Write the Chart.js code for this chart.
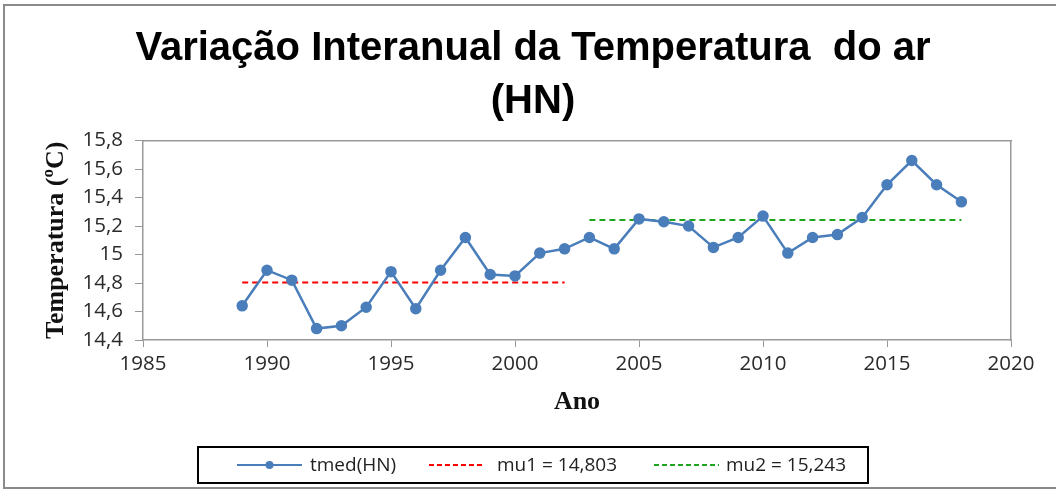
<!DOCTYPE html>
<html>
<head>
<meta charset="utf-8">
<script src="https://cdn.jsdelivr.net/npm/chart.js@4/dist/chart.umd.min.js"></script>
<style>
  html, body { margin: 0; padding: 0; background: #fff; }
  #wrap { width: 1056px; height: 492px; }
</style>
</head>
<body>
<div id="wrap"><canvas id="tempChart"></canvas></div>
<script>
const years = [1989, 1990, 1991, 1992, 1993, 1994, 1995, 1996, 1997, 1998,
               1999, 2000, 2001, 2002, 2003, 2004, 2005, 2006, 2007, 2008,
               2009, 2010, 2011, 2012, 2013, 2014, 2015, 2016, 2017, 2018];
const tmed = [14.64, 14.89, 14.82, 14.48, 14.50, 14.63, 14.88, 14.62, 14.89, 15.12,
              14.86, 14.85, 15.01, 15.04, 15.12, 15.04, 15.25, 15.23, 15.20, 15.05,
              15.12, 15.27, 15.01, 15.12, 15.14, 15.26, 15.49, 15.66, 15.49, 15.37];
const mu1Years = [1989, 2002];
const mu1 = 14.803;
const mu2Years = [2003, 2018];
const mu2 = 15.243;
const xTicks = [1985, 1990, 1995, 2000, 2005, 2010, 2015, 2020];
const yTicks = [14.4, 14.6, 14.8, 15.0, 15.2, 15.4, 15.6, 15.8];

const fmt = v => String(+v.toFixed(1)).replace('.', ',');

// outer frame
const frame = {
    id: 'frame',
    beforeDraw(chart) {
        const ctx = chart.ctx;
        ctx.save();
        ctx.fillStyle = '#fff';
        ctx.fillRect(0, 0, chart.width, chart.height);
        ctx.strokeStyle = '#8a8a8a';
        ctx.lineWidth = 2;
        ctx.strokeRect(4, 5, chart.width + 10, 483);
        ctx.restore();
    }
};

// legend box drawn like the Excel one
const excelLegend = {
    id: 'excelLegend',
    afterDraw(chart) {
        const ctx = chart.ctx;
        const ds = chart.data.datasets;
        const y = 465;
        ctx.save();
        ctx.strokeStyle = '#000';
        ctx.lineWidth = 2;
        ctx.strokeRect(198, 447, 670, 36);
        ctx.font = '19px "Open Sans"';
        ctx.textBaseline = 'middle';
        const items = [
            { x0: 237, x1: 302, tx: 310 },
            { x0: 429, x1: 483, tx: 497 },
            { x0: 654, x1: 719, tx: 726 }
        ];
        items.forEach((it, i) => {
            const d = ds[i];
            ctx.strokeStyle = d.borderColor;
            ctx.lineWidth = 2;
            ctx.setLineDash(d.borderDash ? [5, 3] : []);
            ctx.beginPath();
            ctx.moveTo(it.x0, y);
            ctx.lineTo(it.x1, y);
            ctx.stroke();
            ctx.setLineDash([]);
            if (d.pointRadius) {
                ctx.fillStyle = d.borderColor;
                ctx.beginPath();
                ctx.arc((it.x0 + it.x1) / 2, y, 4, 0, Math.PI * 2);
                ctx.fill();
            }
            ctx.fillStyle = '#222';
            ctx.fillText(d.label, it.tx, y + 1);
        });
        ctx.restore();
    }
};

Chart.defaults.font.family = '"Open Sans", sans-serif';
Chart.defaults.color = '#2a2a2a';

new Chart(document.getElementById('tempChart'), {
    type: 'line',
    data: {
        datasets: [{
            label: 'tmed(HN)',
            data: years.map((yr, i) => ({ x: yr, y: tmed[i] })),
            borderColor: '#4a7ebb',
            backgroundColor: '#4a7ebb',
            borderWidth: 2.5,
            pointRadius: 4.5,
            pointHoverRadius: 4.5,
            tension: 0
        }, {
            label: 'mu1 = 14,803',
            data: mu1Years.map(yr => ({ x: yr, y: mu1 })),
            borderColor: '#ff0000',
            borderWidth: 2,
            borderDash: [6, 4],
            pointRadius: 0
        }, {
            label: 'mu2 = 15,243',
            data: mu2Years.map(yr => ({ x: yr, y: mu2 })),
            borderColor: '#1ea51e',
            borderWidth: 2,
            borderDash: [6, 4],
            pointRadius: 0
        }]
    },
    options: {
        responsive: true,
        maintainAspectRatio: false,
        animation: false,
        layout: { padding: { left: 10, right: 0, top: 0, bottom: 72 } },
        plugins: {
            legend: { display: false },
            tooltip: { enabled: false },
            title: {
                display: true,
                text: ['Variação Interanual da Temperatura  do ar', '(HN)'],
                color: '#000',
                font: { family: '"Liberation Sans", Arial, sans-serif', size: 40, weight: 'bold', lineHeight: 1.32 },
                padding: { top: 23, bottom: 12 }
            }
        },
        scales: {
            x: {
                type: 'linear',
                min: 1985,
                max: 2020,
                afterBuildTicks: s => { s.ticks = xTicks.map(v => ({ value: v })); },
                afterFit: s => { s.height = 80; },
                ticks: { font: { size: 20.5 }, padding: 5, maxRotation: 0, callback: v => String(v) },
                grid: { drawOnChartArea: false, drawTicks: true, tickLength: 7, color: '#999' },
                border: { display: true, color: '#999', width: 1.5 },
                title: {
                    display: true,
                    text: 'Ano',
                    color: '#111',
                    font: { family: '"Liberation Serif", "Times New Roman", serif', size: 26, weight: 'bold' },
                    padding: { top: 0, bottom: 2 }
                }
            },
            x2: {
                type: 'linear',
                position: 'top',
                display: true,
                afterFit: s => { s.height = 0; },
                ticks: { display: false },
                grid: { display: false },
                border: { display: true, color: '#999', width: 1.5 }
            },
            y: {
                min: 14.4,
                max: 15.8,
                afterBuildTicks: s => { s.ticks = yTicks.map(v => ({ value: v })); },
                afterFit: s => { s.width = 133; },
                ticks: { font: { size: 20.5 }, padding: 12, callback: v => fmt(v) },
                grid: { drawOnChartArea: false, drawTicks: true, tickLength: 8, color: '#999' },
                border: { display: true, color: '#999', width: 1.5 },
                title: {
                    display: true,
                    text: 'Temperatura (ºC)',
                    color: '#111',
                    font: { family: '"Liberation Serif", "Times New Roman", serif', size: 26, weight: 'bold' },
                    padding: { top: 31, bottom: 0 }
                }
            },
            y2: {
                position: 'right',
                display: true,
                afterFit: s => { s.width = 45; },
                ticks: { display: false },
                grid: { display: false },
                border: { display: true, color: '#999', width: 1.5 }
            }
        }
    },
    plugins: [frame, excelLegend]
});
</script>
</body>
</html>
